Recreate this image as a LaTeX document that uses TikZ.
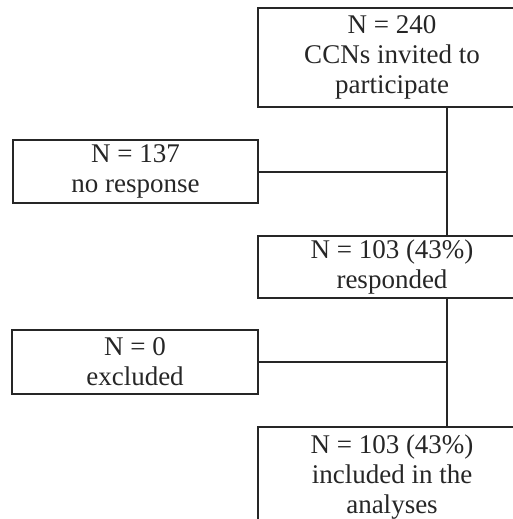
\documentclass[tikz,border=0pt]{standalone}
\usepackage{fontspec}
\setmainfont{Liberation Serif}
\begin{document}
\begin{tikzpicture}[x=1pt,y=1pt,
  flowbox/.style={draw=black!85, line width=2pt, align=center, inner sep=0pt,
    font=\fontsize{27}{30}\selectfont, text=black!85},
  link/.style={draw=black!85, line width=2pt}]
\useasboundingbox (0,0) rectangle (512,-519);
\node[flowbox, minimum width=268pt, minimum height=99pt] (invited) at (392,-57.5)
  {N = 240\\CCNs invited to\\participate};
\node[flowbox, minimum width=245pt, minimum height=63pt] (noresp) at (135.5,-171.5)
  {N = 137\\no response};
\node[flowbox, minimum width=268pt, minimum height=62pt] (resp) at (392,-267)
  {N = 103 (43\%)\\responded};
\node[flowbox, minimum width=246pt, minimum height=64pt] (excl) at (135,-362)
  {N = 0\\excluded};
\node[flowbox, minimum width=268pt, minimum height=100pt, anchor=north] (incl) at (392,-426)
  {N = 103 (43\%)\\included in the\\analyses};
\coordinate (trunk) at (447,0);
\draw[link] (invited.south -| trunk) -- (resp.north -| trunk);
\draw[link] (noresp.east) -- (noresp.east -| trunk);
\draw[link] (resp.south -| trunk) -- (incl.north -| trunk);
\draw[link] (excl.east) -- (excl.east -| trunk);
\end{tikzpicture}
\end{document}
